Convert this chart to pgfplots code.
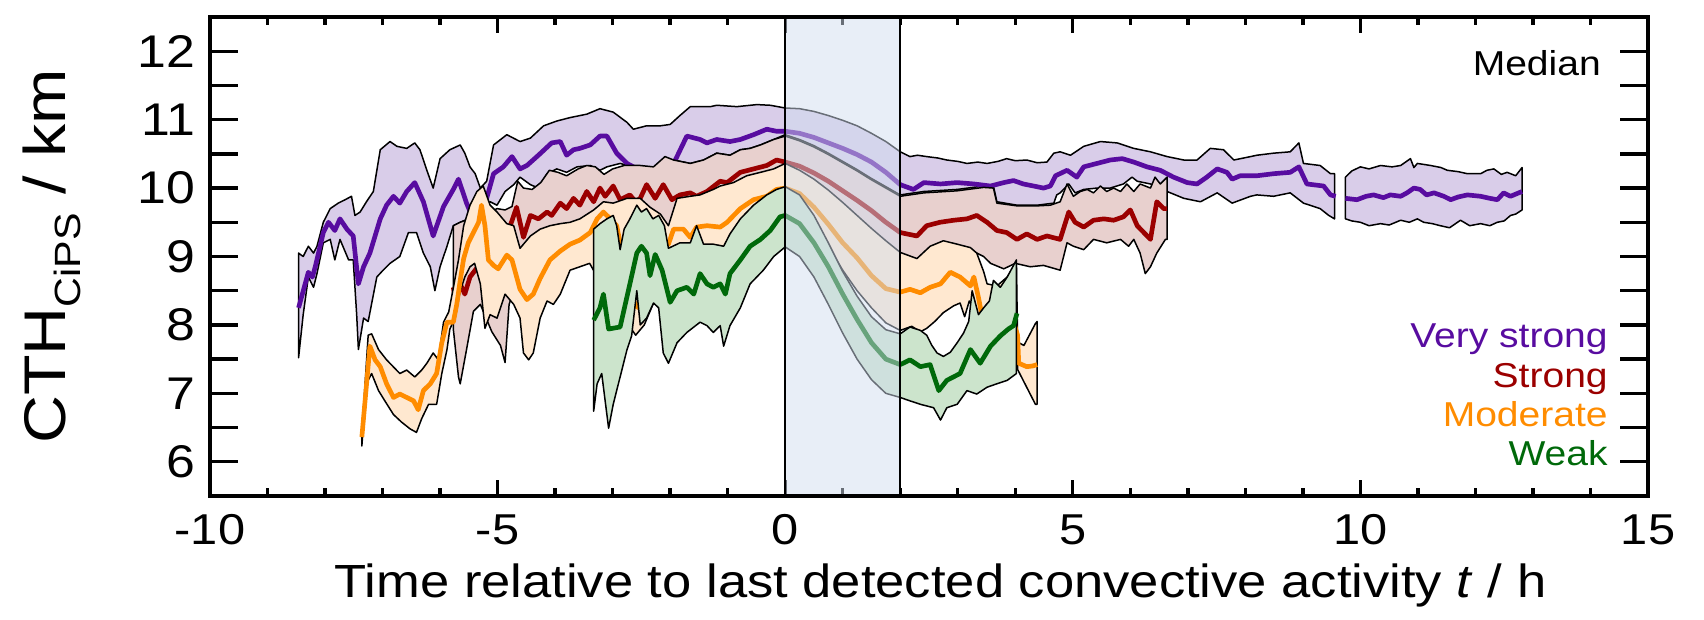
\documentclass[border=0pt]{standalone}
\usepackage{pgfplots}
\pgfplotsset{compat=1.18}
\usepackage{fontspec}
\setmainfont{Liberation Sans}[FakeStretch=1.13]
\definecolor{vpur}{RGB}{88,12,160}
\definecolor{vpurF}{RGB}{217,205,233}
\definecolor{sred}{RGB}{155,0,0}
\definecolor{sredF}{RGB}{232,208,206}
\definecolor{mor}{RGB}{255,140,0}
\definecolor{morF}{RGB}{255,232,208}
\definecolor{wgr}{RGB}{0,105,10}
\definecolor{wgrF}{RGB}{204,228,204}
\definecolor{shadeB}{RGB}{209,221,239}
\begin{document}
\begin{tikzpicture}
\useasboundingbox (-63bp,-37.2bp) rectangle (448.2bp,148.8bp);
\begin{axis}[
  at={(0,0)}, anchor=south west,
  scale only axis, width=431.4bp, height=143.7bp,
  xmin=-10, xmax=15, ymin=5.5, ymax=12.5,
  xtick={-10,-5,0,5,10,15}, xticklabels={-10,-5,0,5,10,15},
  minor x tick num=4,
  ytick={6,7,8,9,10,11,12}, yticklabels={6,7,8,9,10,11,12},
  minor y tick num=1,
  tick align=inside, tick pos=both,
  major tick length=4.7bp, minor tick length=2.4bp,
  axis line style={line width=1bp},
  tick style={black, line width=1bp},
  tick label style={font=\fontsize{13}{15}\selectfont},
  xticklabel style={yshift=-2bp},
  yticklabel style={xshift=-0.8bp, font=\fontsize{13.8}{15}\selectfont},
  xlabel={Time relative to last detected convective activity \textit{t} / h},
  xlabel style={font=\fontsize{14}{16}\selectfont, at={(axis description cs:0.508,-0.211)}, anchor=base},
  ylabel={CTH\raisebox{-4.5bp}{\fontsize{11}{11}\selectfont CiPS} / km},
  ylabel style={font=\fontsize{17.7}{20}\selectfont, at={(axis description cs:-0.1008,0.5)}, anchor=base},
  clip=true,
]
% ---------- Very strong (purple), segment 1 band
\addplot[fill=vpurF, draw=black, line width=0.45bp, line join=round] coordinates {
(-8.46,9.05) (-8.38,9.00) (-8.29,9.15) (-8.20,9.05) (-8.14,9.15) (-8.03,9.50) (-7.91,9.70) (-7.77,9.78) (-7.65,9.83) (-7.54,9.88) (-7.48,9.60) (-7.39,9.65) (-7.28,9.80) (-7.16,9.95) (-7.04,10.56) (-6.87,10.68) (-6.75,10.61) (-6.58,10.58) (-6.44,10.66) (-6.35,10.56) (-6.23,10.26) (-6.12,10.00) (-6.00,10.43) (-5.83,10.56) (-5.65,10.63) (-5.57,10.51) (-5.48,10.31) (-5.39,10.21) (-5.30,10.00) (-5.19,10.10) (-5.07,10.63) (-4.84,10.78) (-4.61,10.68) (-4.43,10.73) (-4.20,10.91) (-3.97,10.98) (-3.74,11.03) (-3.45,11.08) (-3.22,11.16) (-2.99,11.11) (-2.75,10.96) (-2.64,10.86) (-2.41,10.91) (-2.17,10.91) (-2.00,10.93) (-1.83,11.06) (-1.65,11.19) (-1.30,11.19) (-1.19,11.21) (-0.84,11.19) (-0.49,11.22) (-0.26,11.21) (0,11.17) (0.25,11.16) (0.5,11.12) (0.75,11.06) (1.0,10.99) (1.25,10.91) (1.5,10.80) (1.75,10.68) (2.0,10.53) (2.17,10.46) (2.30,10.48) (2.46,10.46) (2.65,10.44) (2.81,10.41) (3.00,10.39) (3.16,10.36) (3.35,10.38) (3.51,10.36) (3.70,10.39) (3.85,10.43) (4.00,10.40) (4.20,10.41) (4.38,10.37) (4.55,10.38) (4.67,10.51) (4.78,10.53) (4.96,10.48) (5.19,10.61) (5.48,10.68) (5.77,10.66) (6.06,10.58) (6.35,10.53) (6.64,10.46) (6.93,10.41) (7.16,10.41) (7.39,10.58) (7.62,10.56) (7.80,10.41) (8.09,10.46) (8.20,10.48) (8.49,10.51) (8.78,10.53) (8.93,10.66) (9.01,10.36) (9.30,10.33) (9.48,10.21) (9.55,10.21)
(9.55,9.55) (9.45,9.60) (9.30,9.70) (9.01,9.78) (8.78,9.93) (8.49,9.88) (8.20,9.90) (8.09,9.88) (7.77,9.78) (7.51,9.93) (7.22,9.80) (6.93,9.85) (6.64,9.95) (6.35,10.06) (6.12,10.10) (6.03,10.16) (5.88,10.06) (5.65,10.00) (5.42,10.00) (5.19,9.98) (5.04,9.93) (4.93,10.06) (4.78,9.93) (4.72,9.90) (4.67,9.78) (4.38,9.75) (4.03,9.75) (3.68,9.80) (3.62,10.03) (3.45,10.03) (2.99,9.98) (2.41,9.95) (2.0,9.90) (1.75,10.02) (1.5,10.14) (1.25,10.27) (1.0,10.39) (0.75,10.51) (0.5,10.62) (0.25,10.71) (0,10.78) (-0.20,10.71) (-0.43,10.63) (-0.61,10.58) (-0.78,10.56) (-0.96,10.48) (-1.19,10.51) (-1.42,10.41) (-1.65,10.36) (-1.94,10.41) (-2.12,10.28) (-2.41,10.28) (-2.64,10.31) (-2.87,10.36) (-3.10,10.31) (-3.22,10.26) (-3.39,10.33) (-3.62,10.31) (-3.80,10.23) (-3.97,10.28) (-4.14,10.21) (-4.29,10.00) (-4.43,10.05) (-4.61,10.16) (-4.72,10.05) (-4.87,9.95) (-5.01,9.75) (-5.13,9.80) (-5.30,9.65) (-5.50,9.55) (-5.65,9.50) (-5.77,9.45) (-5.88,9.15) (-6.00,8.85) (-6.09,8.50) (-6.17,8.85) (-6.29,9.05) (-6.41,9.35) (-6.55,9.35) (-6.70,9.00) (-6.87,8.90) (-6.99,8.80) (-7.10,8.70) (-7.25,8.05) (-7.33,8.10) (-7.42,7.64) (-7.45,8.15) (-7.51,8.95) (-7.59,8.95) (-7.74,9.25) (-7.83,8.95) (-7.91,9.25) (-8.03,9.20) (-8.14,8.75) (-8.20,8.55) (-8.29,8.70) (-8.38,8.15) (-8.46,7.52)
} -- cycle;
% segment 2 band
\addplot[fill=vpurF, draw=black, line width=0.45bp, line join=round] coordinates {
(9.74,10.16) (9.85,10.25) (10.0,10.31) (10.15,10.28) (10.35,10.33) (10.55,10.31) (10.70,10.33) (10.87,10.43) (10.93,10.30) (10.99,10.36) (11.22,10.33) (11.40,10.30) (11.51,10.26) (11.70,10.24) (11.86,10.21) (12.09,10.21) (12.20,10.26) (12.32,10.28) (12.45,10.20) (12.55,10.23) (12.70,10.18) (12.81,10.30)
(12.81,9.68) (12.70,9.62) (12.61,9.60) (12.50,9.52) (12.38,9.50) (12.25,9.45) (12.09,9.48) (11.90,9.45) (11.74,9.53) (11.55,9.42) (11.39,9.45) (11.25,9.48) (11.10,9.50) (10.99,9.55) (10.85,9.50) (10.70,9.53) (10.50,9.46) (10.35,9.48) (10.15,9.45) (10.0,9.50) (9.85,9.52) (9.74,9.55)
} -- cycle;
\addplot[vpur, line width=1.4bp, line join=round] coordinates {
(-8.46,8.25) (-8.29,8.77) (-8.22,8.70) (-8.17,8.85) (-8.03,9.35) (-7.94,9.50) (-7.83,9.38) (-7.74,9.55) (-7.62,9.40) (-7.51,9.30) (-7.42,8.60) (-7.33,8.85) (-7.22,9.05) (-7.04,9.55) (-6.93,9.75) (-6.81,9.88) (-6.70,9.78) (-6.58,9.95) (-6.44,10.08) (-6.29,9.80) (-6.12,9.30) (-5.94,9.73) (-5.77,9.98) (-5.68,10.13) (-5.54,9.78) (-5.46,9.62) (-5.30,9.70) (-5.19,9.85) (-5.07,10.21) (-4.90,10.31) (-4.75,10.46) (-4.61,10.28) (-4.49,10.33) (-4.29,10.48) (-4.06,10.66) (-3.91,10.68) (-3.80,10.48) (-3.68,10.56) (-3.57,10.58) (-3.39,10.63) (-3.22,10.76) (-3.10,10.76) (-2.93,10.51) (-2.75,10.36) (-2.64,10.31) (-2.40,10.22) (-2.10,10.22) (-1.91,10.41) (-1.71,10.76) (-1.48,10.71) (-1.36,10.66) (-1.19,10.71) (-0.96,10.68) (-0.78,10.71) (-0.55,10.78) (-0.32,10.86) (-0.15,10.83) (0,10.83) (0.25,10.80) (0.5,10.74) (0.75,10.66) (1.0,10.58) (1.25,10.49) (1.5,10.38) (1.75,10.23) (2.0,10.05) (2.23,9.98) (2.41,10.08) (2.70,10.06) (2.99,10.08) (3.28,10.06) (3.57,10.03) (3.80,10.08) (3.97,10.11) (4.14,10.06) (4.32,10.03) (4.49,10.00) (4.61,10.03) (4.70,10.18) (4.90,10.26) (5.07,10.16) (5.19,10.31) (5.42,10.36) (5.65,10.41) (5.86,10.43) (6.06,10.38) (6.29,10.31) (6.52,10.26) (6.75,10.16) (6.99,10.08) (7.16,10.06) (7.33,10.16) (7.51,10.28) (7.68,10.23) (7.77,10.13) (7.91,10.18) (8.20,10.18) (8.49,10.21) (8.78,10.23) (8.93,10.31) (9.07,10.06) (9.36,10.03) (9.48,9.90) (9.57,9.88)
};
\addplot[vpur, line width=1.4bp, line join=round] coordinates {
(9.74,9.85) (9.94,9.83) (10.10,9.88) (10.23,9.90) (10.40,9.86) (10.52,9.90) (10.70,9.88) (10.81,9.93) (10.93,10.0) (11.04,9.98) (11.15,9.90) (11.28,9.93) (11.45,9.88) (11.57,9.83) (11.70,9.87) (11.86,9.90) (12.09,9.88) (12.25,9.85) (12.38,9.83) (12.49,9.93) (12.61,9.88) (12.81,9.95)
};
% ---------- Strong (red)
\addplot[fill=sredF, draw=black, line width=0.45bp, line join=round] coordinates {
(-5.77,9.45) (-5.65,9.50) (-5.50,9.55) (-5.30,9.60) (-5.13,9.65) (-5.01,9.70) (-4.87,9.68) (-4.75,9.73) (-4.65,10.10) (-4.55,10.00) (-4.40,9.98) (-4.25,10.08) (-4.10,10.26) (-3.95,10.23) (-3.80,10.18) (-3.60,10.28) (-3.45,10.33) (-3.30,10.31) (-3.15,10.20) (-3.00,10.28) (-2.80,10.33) (-2.52,10.33) (-2.29,10.31) (-2.09,10.46) (-1.94,10.41) (-1.65,10.36) (-1.42,10.41) (-1.19,10.51) (-0.96,10.48) (-0.78,10.56) (-0.61,10.58) (-0.43,10.63) (-0.20,10.71) (0,10.76) (0.25,10.69) (0.5,10.60) (0.75,10.49) (1.0,10.37) (1.25,10.25) (1.5,10.12) (1.75,10.00) (2.0,9.88) (2.41,9.93) (2.99,9.96) (3.45,10.01) (3.62,10.00) (3.68,9.78) (4.03,9.74) (4.38,9.74) (4.61,9.75) (4.78,9.80) (4.90,10.06) (5.01,9.88) (5.13,9.95) (5.25,9.98) (5.36,9.93) (5.48,10.03) (5.59,9.95) (5.71,10.00) (5.83,9.95) (5.94,10.06) (6.06,9.95) (6.17,10.06) (6.35,10.00) (6.43,10.16) (6.52,10.06) (6.64,10.16)
(6.64,9.25) (6.61,9.25) (6.46,9.05) (6.35,8.85) (6.26,8.75) (6.17,9.05) (6.06,9.25) (5.97,9.15) (5.83,9.25) (5.59,9.20) (5.36,9.25) (5.19,9.10) (5.01,9.15) (4.90,9.20) (4.78,8.80) (4.49,8.87) (4.26,8.85) (4.0,8.90) (3.80,8.82) (3.57,8.90) (3.45,9.00) (3.33,9.05) (3.0,9.05) (2.75,9.10) (2.52,9.05) (2.29,8.95) (2.0,9.04) (1.75,9.21) (1.5,9.39) (1.25,9.58) (1.0,9.77) (0.75,9.95) (0.5,10.11) (0.25,10.24) (0,10.33) (-0.20,10.25) (-0.43,10.20) (-0.67,10.15) (-0.90,10.05) (-1.13,10.00) (-1.25,9.95) (-1.48,9.87) (-1.65,9.85) (-1.88,9.70) (-2.03,9.42) (-2.17,9.57) (-2.35,9.67) (-2.52,9.75) (-2.75,9.72) (-2.99,9.65) (-3.16,9.67) (-3.33,9.52) (-3.57,9.42) (-3.74,9.40) (-3.91,9.38) (-4.09,9.35) (-4.26,9.30) (-4.43,9.20) (-4.55,9.00) (-4.65,8.80) (-4.72,8.50) (-4.80,8.30) (-4.87,7.45) (-4.95,7.70) (-5.10,7.90) (-5.20,8.10) (-5.30,8.30) (-5.42,8.20) (-5.54,7.64) (-5.65,7.14) (-5.68,7.24) (-5.77,7.94)
} -- cycle;
\addplot[sred, line width=1.4bp, line join=round] coordinates {
(-5.77,8.55) (-5.74,8.40) (-5.65,8.60) (-5.57,8.45) (-5.48,8.70) (-5.30,8.90) (-5.10,9.10) (-4.90,9.35) (-4.80,9.40) (-4.67,9.72) (-4.61,9.50) (-4.55,9.28) (-4.43,9.60) (-4.29,9.55) (-4.14,9.65) (-4.06,9.60) (-3.91,9.78) (-3.80,9.70) (-3.68,9.85) (-3.57,9.75) (-3.45,9.95) (-3.33,9.80) (-3.22,10.0) (-3.13,9.88) (-2.99,10.03) (-2.87,9.83) (-2.70,9.90) (-2.60,9.80) (-2.52,9.85) (-2.41,10.05) (-2.26,9.85) (-2.12,10.05) (-1.97,9.83) (-1.83,9.90) (-1.65,9.93) (-1.54,9.88) (-1.36,9.95) (-1.13,10.10) (-1.01,10.08) (-0.78,10.23) (-0.55,10.28) (-0.32,10.33) (-0.15,10.41) (0,10.38) (0.25,10.32) (0.5,10.22) (0.75,10.10) (1.0,9.96) (1.25,9.82) (1.5,9.67) (1.75,9.50) (2.0,9.35) (2.29,9.30) (2.46,9.45) (2.69,9.50) (2.93,9.53) (3.16,9.55) (3.33,9.60) (3.51,9.50) (3.68,9.38) (3.85,9.35) (4.03,9.25) (4.20,9.33) (4.38,9.25) (4.55,9.30) (4.78,9.25) (4.93,9.65) (5.04,9.50) (5.19,9.43) (5.36,9.53) (5.54,9.55) (5.71,9.53) (5.88,9.58) (6.0,9.68) (6.12,9.45) (6.35,9.25) (6.46,9.80) (6.58,9.70) (6.64,9.70)
};
% ---------- Moderate (orange)
\addplot[fill=morF, draw=black, line width=0.45bp, line join=round] coordinates {
(-7.36,6.40) (-7.25,7.85) (-7.19,7.87) (-7.07,7.64) (-6.93,7.49) (-6.78,7.36) (-6.70,7.29) (-6.58,7.34) (-6.44,7.24) (-6.32,7.34) (-6.23,7.44) (-6.12,7.59) (-6.03,7.49) (-5.94,8.04) (-5.85,8.19) (-5.77,8.54) (-5.68,8.95) (-5.59,9.45) (-5.48,9.75) (-5.36,9.95) (-5.25,10.03) (-5.13,9.75) (-5.01,9.65) (-4.84,9.48) (-4.72,9.45) (-4.61,9.12) (-4.43,9.30) (-4.26,9.40) (-4.09,9.45) (-3.91,9.48) (-3.74,9.50) (-3.57,9.55) (-3.33,9.68) (-3.16,9.80) (-2.99,9.78) (-2.75,9.85) (-2.52,9.85) (-2.35,9.72) (-2.17,9.62) (-2.03,9.45) (-1.88,9.85) (-1.65,9.88) (-1.48,9.90) (-1.25,9.98) (-1.13,10.03) (-0.90,10.08) (-0.67,10.18) (-0.43,10.23) (-0.20,10.28) (0,10.36) (0.25,10.26) (0.5,10.13) (0.75,9.97) (1.0,9.79) (1.25,9.60) (1.5,9.41) (1.75,9.23) (2.0,9.06) (2.29,8.97) (2.52,9.15) (2.75,9.23) (2.99,9.18) (3.22,9.13) (3.33,9.05) (3.45,8.78) (3.51,8.60) (3.68,8.57) (3.86,8.70) (4.02,8.90) (4.04,7.75) (4.15,7.70) (4.35,8.02) (4.38,8.05)
(4.38,6.84) (4.35,6.84) (4.04,7.35) (4.02,8.55) (3.80,8.45) (3.62,8.35) (3.50,8.30) (3.40,8.00) (3.30,8.20) (3.20,8.35) (3.12,8.12) (3.04,8.32) (2.93,8.28) (2.75,8.18) (2.60,8.05) (2.46,7.95) (2.35,7.90) (2.20,7.98) (2.0,7.92) (1.75,8.03) (1.5,8.25) (1.25,8.50) (1.0,8.80) (0.75,9.15) (0.5,9.50) (0.25,9.80) (0,9.95) (-0.20,9.85) (-0.43,9.70) (-0.67,9.50) (-0.90,9.25) (-1.10,9.05) (-1.30,9.00) (-1.50,9.00) (-1.83,9.00) (-2.0,8.70) (-2.10,8.40) (-2.30,8.30) (-2.45,8.00) (-2.60,7.85) (-2.80,8.10) (-3.0,8.30) (-3.20,8.60) (-3.40,8.90) (-3.57,8.85) (-3.74,8.80) (-3.91,8.45) (-4.03,8.30) (-4.14,8.35) (-4.26,8.10) (-4.38,7.59) (-4.46,7.49) (-4.55,7.59) (-4.61,8.10) (-4.72,8.30) (-4.87,8.45) (-5.01,8.10) (-5.13,8.15) (-5.22,7.95) (-5.30,8.60) (-5.40,8.90) (-5.48,8.85) (-5.57,8.70) (-5.65,8.50) (-5.74,8.10) (-5.83,7.94) (-5.88,7.64) (-5.97,7.29) (-6.06,6.84) (-6.20,6.84) (-6.32,6.63) (-6.41,6.43) (-6.52,6.48) (-6.67,6.58) (-6.81,6.69) (-6.96,6.89) (-7.07,7.04) (-7.19,7.29) (-7.28,7.14) (-7.36,6.23)
} -- cycle;
\addplot[mor, line width=1.4bp, line join=round] coordinates {
(-7.36,6.36) (-7.22,7.69) (-7.13,7.49) (-7.04,7.39) (-6.93,7.14) (-6.81,6.94) (-6.70,6.99) (-6.58,6.94) (-6.46,6.89) (-6.38,6.76) (-6.29,7.04) (-6.17,7.14) (-6.06,7.29) (-5.97,7.74) (-5.88,8.04) (-5.77,8.04) (-5.71,8.30) (-5.65,8.65) (-5.59,8.97) (-5.51,9.20) (-5.42,9.35) (-5.33,9.50) (-5.28,9.75) (-5.22,9.45) (-5.16,8.95) (-5.07,8.87) (-4.99,8.82) (-4.84,9.02) (-4.75,8.95) (-4.61,8.52) (-4.49,8.37) (-4.38,8.45) (-4.26,8.68) (-4.09,8.95) (-3.91,9.08) (-3.74,9.18) (-3.57,9.24) (-3.39,9.35) (-3.27,9.55) (-3.16,9.65) (-3.04,9.55) (-2.93,9.45) (-2.87,9.20) (-2.75,8.90) (-2.62,8.30) (-2.55,8.25) (-2.45,8.90) (-2.30,9.10) (-2.15,9.20) (-2.03,9.18) (-1.94,9.40) (-1.77,9.40) (-1.65,9.28) (-1.54,9.43) (-1.36,9.45) (-1.13,9.43) (-1.01,9.50) (-0.78,9.70) (-0.55,9.83) (-0.32,9.88) (-0.15,9.98) (0,10.0) (0.25,9.92) (0.5,9.72) (0.75,9.47) (1.0,9.20) (1.25,8.98) (1.5,8.72) (1.75,8.53) (2.0,8.48) (2.17,8.52) (2.35,8.47) (2.52,8.55) (2.70,8.60) (2.87,8.77) (3.04,8.70) (3.22,8.57) (3.28,8.70) (3.36,8.40) (3.42,8.14) (3.55,8.0) (3.75,8.05) (3.95,8.1) (4.04,7.85) (4.06,7.44) (4.20,7.39) (4.30,7.40) (4.38,7.42)
};
% ---------- Weak (green)
\addplot[fill=wgrF, draw=black, line width=0.45bp, line join=round] coordinates {
(-3.33,9.40) (-3.22,9.48) (-3.10,9.55) (-2.99,9.60) (-2.93,9.45) (-2.87,9.10) (-2.80,9.40) (-2.70,9.55) (-2.58,9.75) (-2.50,9.65) (-2.41,9.70) (-2.30,9.55) (-2.20,9.60) (-2.10,9.45) (-2.03,9.12) (-1.83,9.20) (-1.65,9.20) (-1.54,9.45) (-1.42,9.18) (-1.25,9.18) (-1.07,9.15) (-0.96,9.33) (-0.78,9.55) (-0.55,9.75) (-0.32,9.90) (-0.15,9.98) (0,10.02) (0.25,9.90) (0.5,9.60) (0.75,9.20) (1.0,8.78) (1.25,8.42) (1.5,8.12) (1.75,7.93) (2.0,7.87) (2.17,7.97) (2.35,7.92) (2.46,7.85) (2.55,7.70) (2.64,7.59) (2.75,7.54) (2.87,7.60) (2.99,7.74) (3.10,7.88) (3.19,8.05) (3.25,8.50) (3.36,8.15) (3.45,8.25) (3.55,8.35) (3.62,8.65) (3.74,8.55) (3.86,8.70) (4.02,8.95)
(4.02,7.29) (3.86,7.19) (3.68,7.14) (3.51,7.09) (3.33,6.99) (3.16,7.04) (2.99,6.84) (2.81,6.79) (2.70,6.61) (2.58,6.79) (2.35,6.84) (2.17,6.89) (2.0,6.94) (1.75,7.00) (1.5,7.20) (1.25,7.50) (1.0,7.88) (0.75,8.30) (0.5,8.70) (0.25,9.00) (0,9.14) (-0.20,9.0) (-0.38,8.80) (-0.61,8.60) (-0.78,8.25) (-0.96,7.99) (-1.07,7.69) (-1.13,7.99) (-1.25,7.89) (-1.36,7.99) (-1.48,8.04) (-1.71,7.89) (-1.88,7.74) (-2.03,7.44) (-2.12,7.59) (-2.20,8.25) (-2.29,8.32) (-2.41,8.10) (-2.52,8.00) (-2.58,8.50) (-2.67,7.84) (-2.75,7.64) (-2.87,7.24) (-2.99,6.84) (-3.07,6.49) (-3.19,7.29) (-3.27,7.14) (-3.33,6.74)
} -- cycle;
\addplot[wgr, line width=1.4bp, line join=round] coordinates {
(-3.33,8.07) (-3.22,8.25) (-3.16,8.45) (-3.07,7.94) (-2.87,7.97) (-2.70,8.60) (-2.58,9.05) (-2.50,9.15) (-2.41,9.05) (-2.35,8.72) (-2.26,9.03) (-2.14,8.80) (-2.0,8.33) (-1.88,8.50) (-1.71,8.55) (-1.59,8.45) (-1.48,8.75) (-1.36,8.60) (-1.25,8.55) (-1.13,8.60) (-1.04,8.45) (-0.96,8.75) (-0.78,8.95) (-0.61,9.15) (-0.43,9.25) (-0.26,9.38) (-0.09,9.58) (0,9.60) (0.25,9.48) (0.5,9.20) (0.75,8.85) (1.0,8.45) (1.25,8.08) (1.5,7.74) (1.75,7.50) (2.0,7.42) (2.17,7.49) (2.35,7.39) (2.52,7.42) (2.67,7.04) (2.81,7.19) (3.04,7.29) (3.22,7.64) (3.39,7.44) (3.57,7.69) (3.74,7.84) (3.88,7.94) (3.97,7.99) (4.03,8.17)
};
% ---------- shaded period
\addplot[draw=none, fill=shadeB, fill opacity=0.5] coordinates {(0,5.5) (2,5.5) (2,12.5) (0,12.5)} -- cycle;
\addplot[black, line width=0.7bp] coordinates {(0,5.5) (0,12.5)};
\addplot[black, line width=0.7bp] coordinates {(2,5.5) (2,12.5)};
% ---------- labels
\node[anchor=base east, inner sep=0pt, font=\fontsize{10.4}{12}\selectfont] at (axis cs:14.19,11.64) {Median};
\node[anchor=base east, inner sep=0pt, font=\fontsize{10.4}{12}\selectfont, text=vpur] at (axis cs:14.31,7.67) {Very strong};
\node[anchor=base east, inner sep=0pt, font=\fontsize{10.4}{12}\selectfont, text=sred] at (axis cs:14.31,7.09) {Strong};
\node[anchor=base east, inner sep=0pt, font=\fontsize{10.4}{12}\selectfont, text=mor] at (axis cs:14.31,6.52) {Moderate};
\node[anchor=base east, inner sep=0pt, font=\fontsize{10.4}{12}\selectfont, text=wgr] at (axis cs:14.31,5.94) {Weak};
\end{axis}
% long y ticks overlay
\begin{axis}[
  at={(0,0)}, anchor=south west,
  scale only axis, width=431.4bp, height=143.7bp,
  xmin=-10, xmax=15, ymin=5.5, ymax=12.5,
  xtick=\empty, ytick={6,7,8,9,10,11,12}, yticklabels={},
  minor y tick num=1, tick align=inside, ytick pos=both,
  major tick length=8.3bp, minor tick length=8.3bp,
  axis line style={line width=1bp},
  tick style={black, line width=1bp},
]
\end{axis}
\end{tikzpicture}
\end{document}
